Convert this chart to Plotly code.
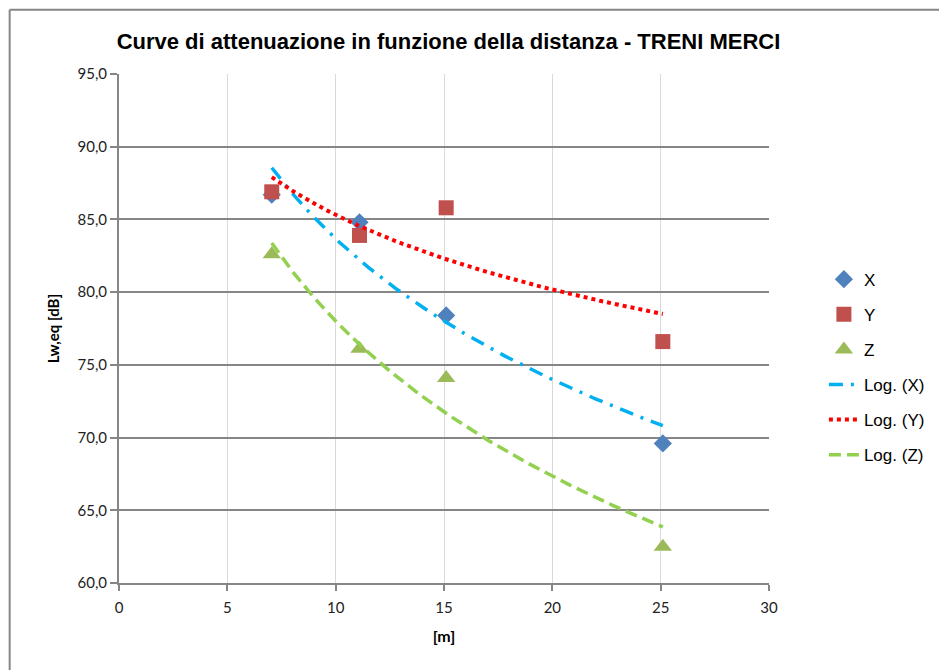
import numpy as np
import plotly.graph_objects as go

distances = [7.05, 11.1, 15.1, 25.1]
x_vals = [86.7, 84.8, 78.4, 69.6]
y_vals = [86.9, 83.9, 85.8, 76.6]
z_vals = [82.6, 76.1, 74.1, 62.5]

x_ticks = [0, 5, 10, 15, 20, 25, 30]
y_ticks = [60, 65, 70, 75, 80, 85, 90, 95]

W, H = 947, 670
OFF = 7.5  # page body offset
L, R, T, B = 118 - OFF, 769 - OFF, 73 - OFF, 583 - OFF

fig = go.Figure()

fig.add_trace(go.Scatter(x=distances, y=x_vals, mode="markers", name="X",
                         marker=dict(symbol="diamond", size=14, color="#4f81bd")))
fig.add_trace(go.Scatter(x=distances, y=y_vals, mode="markers", name="Y",
                         marker=dict(symbol="square", size=15, color="#c0504d")))
fig.add_trace(go.Scatter(x=distances, y=z_vals, mode="markers", name="Z",
                         marker=dict(symbol="triangle-up", size=16, color="#9bbb59")))

# logarithmic trendlines (least squares fit of y on ln(x), as Excel does)
xs = np.linspace(min(distances), max(distances), 200)
styles = [("Log. (X)", x_vals, "#00b0f0", "14px,8px,3px,8px", 3.5),
          ("Log. (Y)", y_vals, "#ff0000", "4px,4px", 4),
          ("Log. (Z)", z_vals, "#92d050", "12px,6px", 3.5)]
for name, vals, col, dash, w in styles:
    a, b = np.polyfit(np.log(distances), vals, 1)
    fig.add_trace(go.Scatter(x=xs, y=a * np.log(xs) + b, mode="lines", name=name,
                             line=dict(color=col, width=w, dash=dash)))

def fx(px):  # figure x -> paper
    return (px - L) / (R - L)

def fy(py):  # figure y -> paper
    return (B - py) / (B - T)

def sx(px):  # screen x -> paper
    return fx(px - OFF)

def sy(py):  # screen y -> paper
    return fy(py - OFF)

fig.add_shape(type="line", xref="paper", yref="paper",
              x0=fx(1), x1=fx(W + 20), y0=fy(1), y1=fy(1),
              line=dict(color="#868686", width=2))
fig.add_shape(type="line", xref="paper", yref="paper",
              x0=fx(1), x1=fx(1), y0=fy(1), y1=fy(H + 20),
              line=dict(color="#868686", width=2))

fig.update_layout(
    width=W, height=H,
    margin=dict(l=L, r=W - R, t=T, b=H - B),
    paper_bgcolor="white", plot_bgcolor="white",
    separators=",.",
    title=dict(text="<b>Curve di attenuazione in funzione della distanza - TRENI MERCI</b>",
               x=(448 - OFF) / W, xanchor="center", y=1 - (41 - OFF) / H, yanchor="middle",
               font=dict(family="Liberation Sans Narrow, Liberation Sans, Arial", size=22, color="black")),
    showlegend=True,
    legend=dict(x=sx(824), y=sy(261), xanchor="left", yanchor="top",
                font=dict(family="Liberation Sans, Arial", size=17, color="black"),
                tracegroupgap=10, traceorder="grouped",
                bgcolor="rgba(0,0,0,0)"),
    xaxis=dict(range=[0, 30], tickvals=x_ticks, ticktext=[str(v) for v in x_ticks],
               showgrid=True, gridcolor="#d9d9d9", gridwidth=1,
               showline=True, linecolor="#868686", linewidth=2,
               ticks="outside", ticklen=6, tickcolor="#868686", tickwidth=1.5,
               ticklabelstandoff=4,
               tickfont=dict(family="Lato, Carlito, Calibri", size=15, color="#222"),
               zeroline=False,
               title=dict(text="<b>[m]</b>", standoff=16,
                          font=dict(family="Lato, Calibri", size=16, color="black"))),
    yaxis=dict(range=[60, 95], tickvals=y_ticks, tickformat=".1f",
               showgrid=True, gridcolor="#868686", gridwidth=1.5,
               showline=True, linecolor="#868686", linewidth=2,
               ticks="outside", ticklen=7, tickcolor="#868686", tickwidth=1.5,
               tickfont=dict(family="Lato, Carlito, Calibri", size=15, color="#222"),
               zeroline=False,
               title=dict(text="<b>Lw,eq [dB]</b>", standoff=14,
                          font=dict(family="Lato, Calibri", size=15, color="black"))),
)

for i, tr in enumerate(fig.data):
    tr.legendgroup = "g%d" % i

fig.write_html("out.html")
